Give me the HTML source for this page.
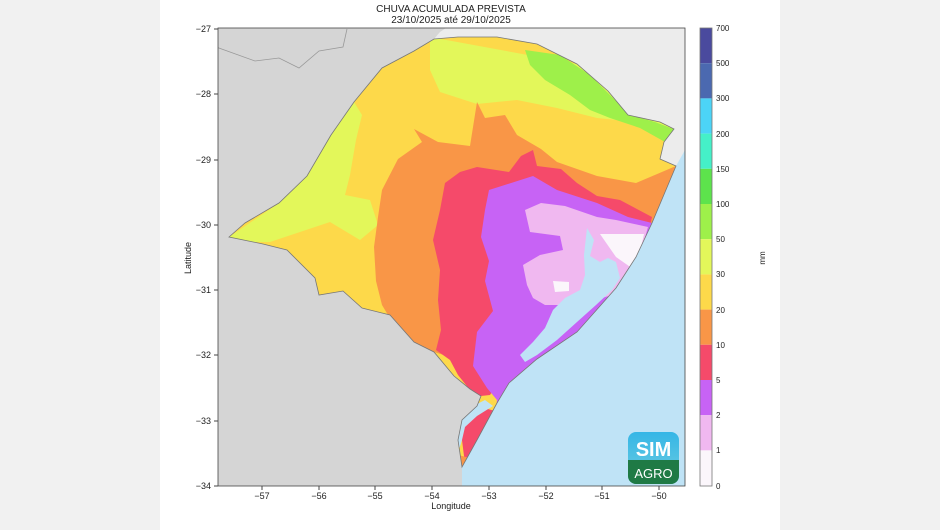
<!DOCTYPE html>
<html><head><meta charset="utf-8"><style>
body{margin:0;background:#f1f1f1;}
svg{display:block;font-family:"Liberation Sans",sans-serif;}
</style></head><body>
<svg width="940" height="530" viewBox="0 0 940 530">
<rect x="0" y="0" width="940" height="530" fill="#f1f1f1"/>
<rect x="160" y="0" width="620" height="530" fill="#ffffff"/>
<defs>
<clipPath id="ax"><rect x="218" y="28" width="467" height="458"/></clipPath>
<clipPath id="rs"><polygon points="229,237 245,223 279,203 307,176 331,135 354,102 382,68 414,51 434,39 458,37 497,37 537,44 577,64 608,91 628,115 660,122 674,129 664,142 660,159 676,166 652,223 636,257 616,288 577,332 537,359 509,383 497,403 477,440 462,467 458,440 462,420 477,406 481,396 470,389 454,376 434,352 414,342 390,315 362,308 343,291 319,295 315,278 287,250 263,244"/></clipPath>
<linearGradient id="lg" x1="0" y1="0" x2="0" y2="1"><stop offset="0" stop-color="#35b6e6"/><stop offset="1" stop-color="#6fcde0"/></linearGradient>
</defs>
<g clip-path="url(#ax)">
<rect x="218" y="28" width="467" height="458" fill="#d5d5d5"/>
<polygon points="446,28 685,28 685,160 676,166 660,159 664,142 674,129 660,122 628,115 608,91 577,64 537,44 497,37 458,37 434,39 440,32" fill="#ececec"/>
<polygon points="676,166 685,150 685,486 462,486 462,467 477,440 497,403 509,383 537,359 577,332 616,288 636,257 652,223" fill="#bfe3f6"/>
<polyline points="216,47 255,61 279,58 299,68 319,51 343,47 347,29" fill="none" stroke="#999" stroke-width="0.8"/>
</g>
<g clip-path="url(#rs)">
<rect x="218" y="28" width="467" height="458" fill="#fdd94a"/>
<polygon points="229,237 279,203 307,176 331,135 354,102 362,115 356,140 350,175 345,195 370,200 378,225 360,240 330,222 300,232 270,242 245,242" fill="#e3f75a"/>
<polygon points="430,37 577,64 608,91 628,115 660,122 674,129 668,135 636,122 597,118 557,108 517,100 477,104 440,92 430,70" fill="#e3f75a"/>
<polygon points="525,50 560,55 590,75 610,95 630,115 655,122 676,130 665,142 640,128 610,118 590,110 570,95 545,80 530,65" fill="#9ef04a"/>
<polygon points="414,129 438,142 470,146 477,102 485,118 505,115 517,135 541,149 557,162 597,176 636,183 676,166 660,230 560,300 460,360 434,352 414,342 394,325 382,305 376,281 374,247 378,217 382,190 398,159 422,142" fill="#f99647"/>
<polygon points="445,183 460,172 477,167 509,172 521,156 533,150 537,166 561,169 577,183 597,196 620,200 652,217 650,226 560,300 500,380 490,395 481,396 470,390 458,375 450,360 436,350 441,330 438,300 440,270 433,240 440,210" fill="#f54a6a"/>
<polygon points="462,410 477,406 513,416 505,430 477,464 465,464 462,440" fill="#f54a6a"/>
<polygon points="458,455 470,458 472,470 460,472" fill="#f99647"/>
<polygon points="489,190 533,176 557,190 597,203 628,217 652,223 636,257 616,288 577,332 537,359 509,383 497,403 505,413 495,416 497,400 487,388 473,366 477,332 493,311 485,281 489,261 481,237 485,210" fill="#c763f5"/>
<polygon points="525,210 541,203 565,206 597,217 616,220 648,227 640,255 625,280 612,295 595,300 575,300 560,305 545,305 533,298 527,285 523,265 540,255 563,250 560,236 530,232" fill="#f0b8f0"/>
<polygon points="600,234 644,234 636,271 616,257" fill="#fbf6fb"/>
<polygon points="553,281 569,282 569,291 555,292" fill="#fbf6fb"/>
<polygon points="587,228 594,240 590,256 600,262 608,258 616,262 620,278 612,290 596,305 577,322 557,340 537,355 525,362 520,355 533,342 545,328 553,310 565,298 580,290 585,275 584,255" fill="#bfe3f6"/>
<polygon points="485,400 493,406 477,416 465,427 462,440 458,453 454,443 458,423 473,406" fill="#bfe3f6"/>
</g>
<polygon points="229,237 245,223 279,203 307,176 331,135 354,102 382,68 414,51 434,39 458,37 497,37 537,44 577,64 608,91 628,115 660,122 674,129 664,142 660,159 676,166 652,223 636,257 616,288 577,332 537,359 509,383 497,403 477,440 462,467 458,440 462,420 477,406 481,396 470,389 454,376 434,352 414,342 390,315 362,308 343,291 319,295 315,278 287,250 263,244" fill="none" stroke="#777" stroke-width="0.8"/>
<rect x="218" y="28" width="467" height="458" fill="none" stroke="#444" stroke-width="0.8"/>
<g>
<rect x="628" y="432" width="51" height="52" rx="8" fill="url(#lg)"/>
<path d="M628,460 H679 V476 a8,8 0 0 1 -8,8 H636 a8,8 0 0 1 -8,-8 Z" fill="#1f7a45"/>
<text x="653.5" y="456" font-size="20" font-weight="bold" fill="#fff" text-anchor="middle">SIM</text>
<text x="653.5" y="478" font-size="13" fill="#fff" text-anchor="middle">AGRO</text>
</g>
<text x="451" y="12" font-size="10" text-anchor="middle" fill="#222">CHUVA ACUMULADA PREVISTA</text>
<text x="451" y="23" font-size="10" text-anchor="middle" fill="#222">23/10/2025 até 29/10/2025</text>
<g font-size="9" fill="#222" text-anchor="middle">
<line x1="262" y1="486" x2="262" y2="490" stroke="#444"/><text x="262" y="499">−57</text>
<line x1="319" y1="486" x2="319" y2="490" stroke="#444"/><text x="319" y="499">−56</text>
<line x1="375" y1="486" x2="375" y2="490" stroke="#444"/><text x="375" y="499">−55</text>
<line x1="432" y1="486" x2="432" y2="490" stroke="#444"/><text x="432" y="499">−54</text>
<line x1="489" y1="486" x2="489" y2="490" stroke="#444"/><text x="489" y="499">−53</text>
<line x1="546" y1="486" x2="546" y2="490" stroke="#444"/><text x="546" y="499">−52</text>
<line x1="602" y1="486" x2="602" y2="490" stroke="#444"/><text x="602" y="499">−51</text>
<line x1="659" y1="486" x2="659" y2="490" stroke="#444"/><text x="659" y="499">−50</text>
<text x="451" y="509">Longitude</text>
</g>
<g font-size="9" fill="#222" text-anchor="end">
<line x1="214" y1="29" x2="218" y2="29" stroke="#444"/><text x="211" y="32">−27</text>
<line x1="214" y1="94" x2="218" y2="94" stroke="#444"/><text x="211" y="97">−28</text>
<line x1="214" y1="160" x2="218" y2="160" stroke="#444"/><text x="211" y="163">−29</text>
<line x1="214" y1="225" x2="218" y2="225" stroke="#444"/><text x="211" y="228">−30</text>
<line x1="214" y1="290" x2="218" y2="290" stroke="#444"/><text x="211" y="293">−31</text>
<line x1="214" y1="355" x2="218" y2="355" stroke="#444"/><text x="211" y="358">−32</text>
<line x1="214" y1="421" x2="218" y2="421" stroke="#444"/><text x="211" y="424">−33</text>
<line x1="214" y1="486" x2="218" y2="486" stroke="#444"/><text x="211" y="489">−34</text>
</g>
<text x="0" y="0" font-size="9" fill="#222" text-anchor="middle" transform="translate(191,258) rotate(-90)">Latitude</text>
<g>
<rect x="700" y="28" width="12" height="35.2" fill="#4a4a9e"/>
<rect x="700" y="63.2" width="12" height="35.2" fill="#4b69b0"/>
<rect x="700" y="98.4" width="12" height="35.2" fill="#4cd4f7"/>
<rect x="700" y="133.6" width="12" height="35.2" fill="#45f0c8"/>
<rect x="700" y="168.8" width="12" height="35.2" fill="#5de34c"/>
<rect x="700" y="204" width="12" height="35.2" fill="#9ef04a"/>
<rect x="700" y="239.2" width="12" height="35.2" fill="#e3f75a"/>
<rect x="700" y="274.4" width="12" height="35.2" fill="#fdd94a"/>
<rect x="700" y="309.6" width="12" height="35.2" fill="#f99647"/>
<rect x="700" y="344.8" width="12" height="35.2" fill="#f54a6a"/>
<rect x="700" y="380" width="12" height="35.2" fill="#c763f5"/>
<rect x="700" y="415.2" width="12" height="35.2" fill="#f0b8f0"/>
<rect x="700" y="450.4" width="12" height="35.6" fill="#fbf6fb"/>
<rect x="700" y="28" width="12" height="458" fill="none" stroke="#777" stroke-width="0.8"/>
</g>
<g font-size="8" fill="#222">
<text x="716" y="31">700</text><text x="716" y="66">500</text><text x="716" y="101">300</text>
<text x="716" y="137">200</text><text x="716" y="172">150</text><text x="716" y="207">100</text>
<text x="716" y="242">50</text><text x="716" y="277">30</text><text x="716" y="313">20</text>
<text x="716" y="348">10</text><text x="716" y="383">5</text><text x="716" y="418">2</text>
<text x="716" y="453">1</text><text x="716" y="489">0</text>
</g>
<text x="0" y="0" font-size="8" fill="#222" text-anchor="middle" transform="translate(765,258) rotate(-90)">mm</text>
</svg>
</body></html>
